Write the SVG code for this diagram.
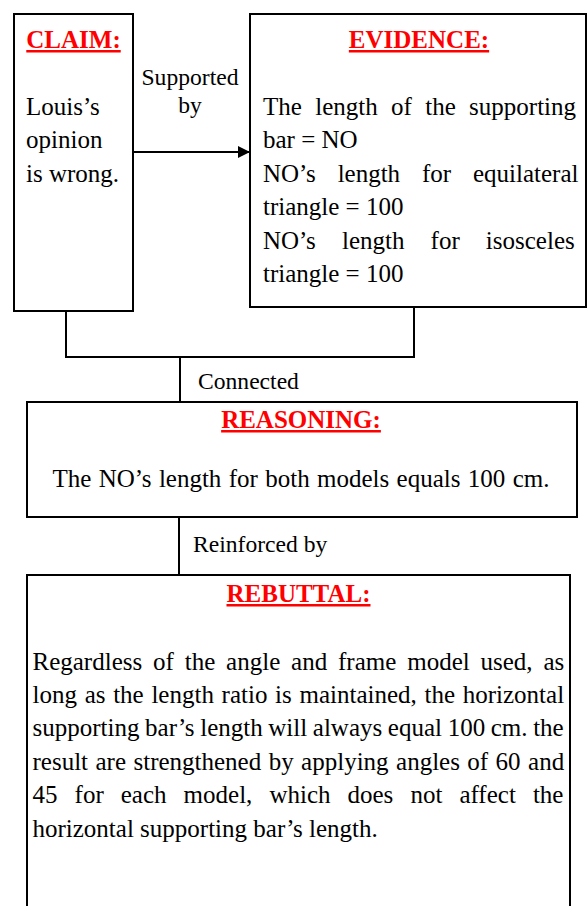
<svg xmlns="http://www.w3.org/2000/svg" width="587" height="906" viewBox="0 0 587 906">
<style>
.box{fill:#fff;stroke:#000;stroke-width:2}
.wire{fill:none;stroke:#000;stroke-width:2}
.t{font-family:"Liberation Serif","Times New Roman",serif;font-size:25px;fill:#000}
.lbl{font-family:"Liberation Serif","Times New Roman",serif;font-size:23.6px;fill:#000}
.h{font-family:"Liberation Serif","Times New Roman",serif;font-size:25px;font-weight:bold;fill:#ff0000;text-decoration:underline;text-anchor:middle}
</style>
<defs>
<marker id="arr" viewBox="0 0 12 12" refX="12" refY="6" markerWidth="12" markerHeight="12" markerUnits="userSpaceOnUse" orient="auto">
<path d="M0,0 L12,6 L0,12 Z" fill="#000"/>
</marker>
</defs>
<rect x="0" y="0" width="587" height="906" fill="#fff"/>
<g id="connectors">
<line class="wire" x1="134" y1="152" x2="250" y2="152" marker-end="url(#arr)"/>
<polyline class="wire" points="66,312 66,357 414,357 414,307"/>
<line class="wire" x1="180" y1="357" x2="180" y2="402"/>
<line class="wire" x1="179" y1="517" x2="179" y2="575"/>
<g class="lbl">
<text x="190" y="85" text-anchor="middle">Supported</text>
<text x="190" y="113" text-anchor="middle">by</text>
<text x="198" y="389">Connected</text>
<text x="193" y="552">Reinforced by</text>
</g>
</g>
<g id="claim">
<rect class="box" x="14" y="14" width="119" height="297"/>
<text class="h" x="73.5" y="48">CLAIM:</text>
<text class="t" x="26" y="115">Louis’s</text>
<text class="t" x="26" y="148">opinion</text>
<text class="t" x="26" y="182">is wrong.</text>
</g>
<g id="evidence">
<rect class="box" x="250" y="14" width="336" height="293"/>
<text class="h" x="419" y="48">EVIDENCE:</text>
<text class="t" x="263" y="115" word-spacing="7.1">The length of the supporting</text>
<text class="t" x="263" y="148">bar = NO</text>
<text class="t" x="263" y="182" word-spacing="15.6">NO’s length for equilateral</text>
<text class="t" x="263" y="215">triangle = 100</text>
<text class="t" x="263" y="249" word-spacing="19.9">NO’s length for isosceles</text>
<text class="t" x="263" y="282">triangle = 100</text>
</g>
<g id="reasoning">
<rect class="box" x="27" y="402" width="550" height="115"/>
<text class="h" x="301" y="428">REASONING:</text>
<text class="t" x="301" y="487" text-anchor="middle" word-spacing="1.1">The NO’s length for both models equals 100 cm.</text>
</g>
<g id="rebuttal">
<rect class="box" x="27" y="575" width="543" height="350"/>
<text class="h" x="298.5" y="602">REBUTTAL:</text>
<text class="t" x="32.5" y="670" word-spacing="4.6">Regardless of the angle and frame model used, as</text>
<text class="t" x="32.5" y="703" word-spacing="1.45">long as the length ratio is maintained, the horizontal</text>
<text class="t" x="32.5" y="736" word-spacing="-0.63">supporting bar’s length will always equal 100 cm. the</text>
<text class="t" x="32.5" y="770" word-spacing="1.2">result are strengthened by applying angles of 60 and</text>
<text class="t" x="32.5" y="803" word-spacing="10.8">45 for each model, which does not affect the</text>
<text class="t" x="32.5" y="837">horizontal supporting bar’s length.</text>
</g>
</svg>
